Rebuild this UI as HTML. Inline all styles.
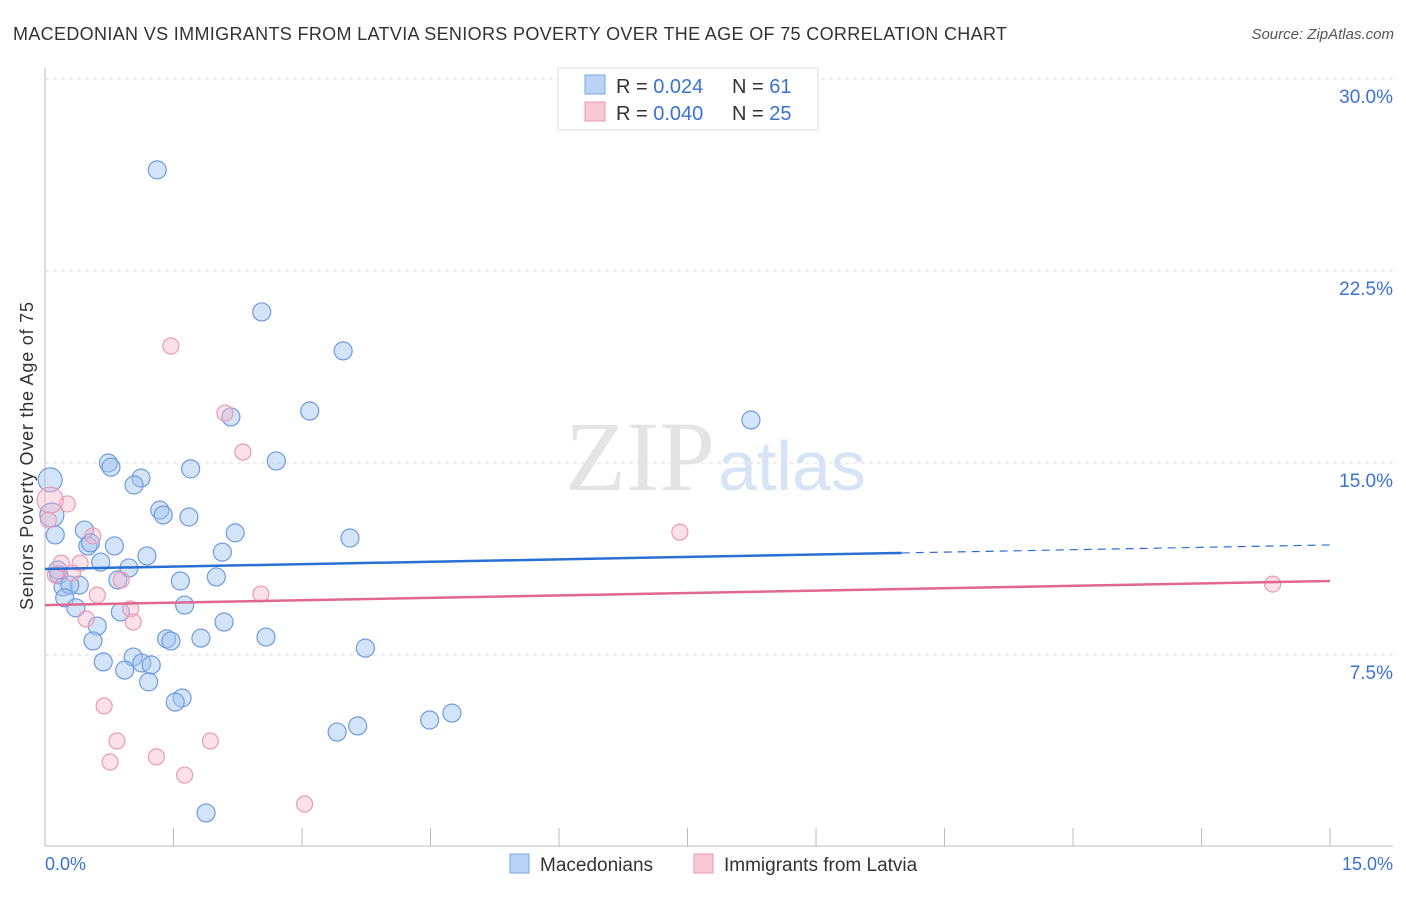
<!DOCTYPE html>
<html><head><meta charset="utf-8"><style>
body{margin:0;background:#fff;font-family:"Liberation Sans",sans-serif;}
</style></head><body>
<svg width="1406" height="892" xmlns="http://www.w3.org/2000/svg" font-family="Liberation Sans, sans-serif">
<text x="13" y="40" font-size="18" fill="#333" textLength="994" lengthAdjust="spacing">MACEDONIAN VS IMMIGRANTS FROM LATVIA SENIORS POVERTY OVER THE AGE OF 75 CORRELATION CHART</text>
<text x="1394" y="39" font-size="15" fill="#555" font-style="italic" text-anchor="end">Source: ZipAtlas.com</text>
<g id="grid"></g>
<text x="715" y="490" font-size="100" fill="#e4e4e4" text-anchor="end" font-family="Liberation Serif, serif">ZIP</text>
<text x="718" y="490" font-size="70" fill="#d6e4f5">atlas</text>
<line x1="45" y1="68" x2="45" y2="846" stroke="#bbb"/>
<line x1="45" y1="846" x2="1393" y2="846" stroke="#bbb"/>
<g id="ticks"></g>
<text x="33" y="456" font-size="18" fill="#333" text-anchor="middle" textLength="308" lengthAdjust="spacing" transform="rotate(-90 33 456)">Seniors Poverty Over the Age of 75</text>
<text x="45" y="870" font-size="18" fill="#3a72d0">0.0%</text>
<text x="1393" y="870" font-size="18" fill="#3a72d0" text-anchor="end">15.0%</text>
<g id="points"></g>
<g id="lines"></g>
<g>
<rect x="558" y="68" width="260" height="62" fill="#fff" stroke="#ddd"/>
<rect x="585" y="75" width="20" height="19" fill="#b9d3f5" stroke="#7aa6e0"/>
<rect x="585" y="102" width="20" height="19" fill="#f9c9d6" stroke="#e898b0"/>
<text x="616" y="93" font-size="20" fill="#333">R = <tspan fill="#3a72d0">0.024</tspan></text>
<text x="732" y="93" font-size="20" fill="#333">N = <tspan fill="#3a72d0"> 61</tspan></text>
<text x="616" y="120" font-size="20" fill="#333">R = <tspan fill="#3a72d0">0.040</tspan></text>
<text x="732" y="120" font-size="20" fill="#333">N = <tspan fill="#3a72d0">25</tspan></text>
</g>
<g>
<rect x="510" y="854" width="19" height="19" fill="#b9d3f5" stroke="#7aa6e0"/>
<text x="540" y="871" font-size="19" fill="#333">Macedonians</text>
<rect x="694" y="854" width="19" height="19" fill="#f9c9d6" stroke="#e898b0"/>
<text x="724" y="871" font-size="19" fill="#333">Immigrants from Latvia</text>
</g>
</svg>
<script>
const yTicks=[7.5,15,22.5,30];
const yTickLabels=["7.5%","15.0%","22.5%","30.0%"];
const xTicks=[0,1.5,3,4.5,6,7.5,9,10.5,12,13.5,15];
const blueX=[1.31,2.53,3.48,3.09,2.17,8.24,2.70,0.74,0.77,1.70,1.12,1.04,0.06,1.34,1.38,1.68,0.08,0.46,2.22,0.12,3.56,0.50,0.81,0.53,2.07,1.19,0.65,0.98,0.16,1.58,2.00,0.85,0.40,0.21,0.29,0.23,1.63,0.88,0.36,2.09,0.61,1.42,1.47,1.82,2.58,0.56,3.74,1.03,1.13,1.24,0.68,0.93,1.21,1.60,1.52,3.41,3.65,4.49,4.75,1.88,0.15];
const blueY=[26.45,20.90,19.38,17.03,16.80,16.68,15.08,15.00,14.84,14.77,14.41,14.14,14.34,13.16,12.97,12.89,12.97,12.38,12.27,12.19,12.07,11.76,11.76,11.88,11.52,11.37,11.13,10.90,10.63,10.39,10.55,10.43,10.23,10.16,10.23,9.73,9.45,9.18,9.34,8.79,8.63,8.13,8.05,8.16,8.20,8.05,7.77,7.42,7.19,7.11,7.23,6.91,6.45,5.82,5.66,4.49,4.73,4.96,5.23,1.33,10.82];
const pinkX=[1.47,2.10,2.31,0.26,0.06,0.04,0.56,0.41,0.19,0.32,0.12,0.89,0.61,2.52,1.00,0.48,1.03,7.41,14.33,0.69,0.84,0.76,1.30,1.93,1.63,3.03];
const pinkY=[19.57,16.95,15.43,13.40,13.55,12.77,12.15,11.09,11.09,10.70,10.63,10.43,9.84,9.88,9.30,8.91,8.79,12.30,10.27,5.51,4.14,3.32,3.52,4.14,2.81,1.68];
const blueLine=[10.86,11.80];
const pinkLine=[9.45,10.39];
const blueSolidEnd=10;
const NS="http://www.w3.org/2000/svg";
const sx=v=>45+v*85.67, sy=v=>847-v*25.6;
function mk(tag,attrs,parent){const e=document.createElementNS(NS,tag);for(const k in attrs)e.setAttribute(k,attrs[k]);parent.appendChild(e);return e;}
const grid=document.getElementById('grid');
yTicks.forEach((t,i)=>{
 const l=mk('line',{x1:45,x2:1393,y1:sy(t),y2:sy(t),stroke:'#ddd','stroke-dasharray':'4,4'},grid);
 
 
 const tx=mk('text',{x:1393,y:sy(t)+24,'font-size':19,fill:'#3a72d0','text-anchor':'end'},grid);
 tx.textContent=yTickLabels[i];
 
 
});
const ticks=document.getElementById('ticks');
xTicks.forEach(t=>{
 const l=mk('line',{x1:sx(t),x2:sx(t),y1:828,y2:846,stroke:'#bbb'},ticks);
 
 
});
const pts=document.getElementById('points');
blueX.forEach((x,i)=>{
 const big=(i===12||i===16);
 const c=mk('circle',{cx:sx(x),cy:sy(blueY[i]),r:big?12:9,fill:'rgba(160,195,240,0.45)',stroke:'#6d9be0','stroke-width':1.2},pts);
 
 
});
pinkX.forEach((x,i)=>{
 const big=(i===4);
 const c=mk('circle',{cx:sx(x),cy:sy(pinkY[i]),r:big?13:8,fill:'rgba(248,180,200,0.4)',stroke:'#eb9ab4','stroke-width':1.2},pts);
 
 
});
const lines=document.getElementById('lines');
const by=x=>blueLine[0]+(blueLine[1]-blueLine[0])*x/15;
const py=x=>pinkLine[0]+(pinkLine[1]-pinkLine[0])*x/15;
let l1=mk('line',{x1:sx(0),y1:sy(by(0)),x2:sx(blueSolidEnd),y2:sy(by(blueSolidEnd)),stroke:'#2b6fd4','stroke-width':2.5},lines);


let l2=mk('line',{x1:sx(blueSolidEnd),y1:sy(by(blueSolidEnd)),x2:sx(15),y2:sy(by(15)),stroke:'#2b6fd4','stroke-width':1.2,'stroke-dasharray':'8,6'},lines);


let l3=mk('line',{x1:sx(0),y1:sy(py(0)),x2:sx(15),y2:sy(py(15)),stroke:'#e0678f','stroke-width':2.5},lines);


</script>
</body></html>
